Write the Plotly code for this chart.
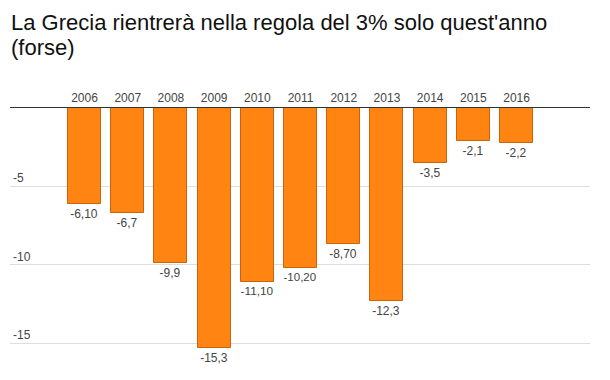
import plotly.graph_objects as go

years = ["2006", "2007", "2008", "2009", "2010", "2011", "2012", "2013", "2014", "2015", "2016"]
values = [-6.1, -6.7, -9.9, -15.3, -11.1, -10.2, -8.7, -12.3, -3.5, -2.1, -2.2]
labels = ["-6,10", "-6,7", "-9,9", "-15,3", "-11,10", "-10,20", "-8,70", "-12,3", "-3,5", "-2,1", "-2,2"]
y_ticks = [-5, -10, -15]
y_tick_text = ["-5", "-10", "-15"]
title_lines = ["La Grecia rientrerà nella regola del 3% solo quest'anno", "(forse)"]

FONT = "Liberation Sans, Arial, sans-serif"
# The page body has an 8px default margin, so the figure is sized to fit inside it.
W, H = 594, 364
M_L, M_R, M_T, M_B = 2, 12, 100, 13
PH = H - M_T - M_B


def py(px_from_top):
    """Convert a pixel row (from the top of the figure) into paper y."""
    return 1 + (M_T - px_from_top) / PH


fig = go.Figure(
    go.Bar(
        x=years,
        y=values,
        text=labels,
        textposition="outside",
        textfont=dict(family=FONT, size=12, color="#444444"),
        cliponaxis=False,
        width=0.764,
        marker=dict(color="#FF8412", line=dict(color="#C8650C", width=1)),
    )
)

annotations = []
for i, line in enumerate(title_lines):
    annotations.append(
        dict(
            text=line,
            xref="paper",
            yref="paper",
            x=0,
            y=py(24 + 25 * i),
            xanchor="left",
            yanchor="bottom",
            showarrow=False,
            font=dict(family=FONT, size=22, color="#111111"),
            xshift=-1,
            yshift=-5,
        )
    )

fig.update_layout(
    template="none",
    width=W,
    height=H,
    margin=dict(l=M_L, r=M_R, t=M_T, b=M_B),
    paper_bgcolor="white",
    plot_bgcolor="white",
    showlegend=False,
    annotations=annotations,
    xaxis=dict(
        type="category",
        side="top",
        range=[-1.725, 11.70],
        automargin=False,
        showgrid=False,
        showline=True,
        linecolor="#333333",
        linewidth=1,
        ticks="",
        tickfont=dict(family=FONT, size=12, color="#444444"),
        ticklabelstandoff=0,
        zeroline=False,
    ),
    yaxis=dict(
        range=[-16, 0],
        automargin=False,
        tickvals=y_ticks,
        ticktext=y_tick_text,
        ticklabelposition="inside top",
        tickfont=dict(family=FONT, size=12, color="#444444"),
        showgrid=True,
        gridcolor="#DDDDDD",
        gridwidth=1,
        zeroline=False,
        showline=False,
        ticks="",
    ),
    bargap=0,
)

fig.write_html("out.html")
